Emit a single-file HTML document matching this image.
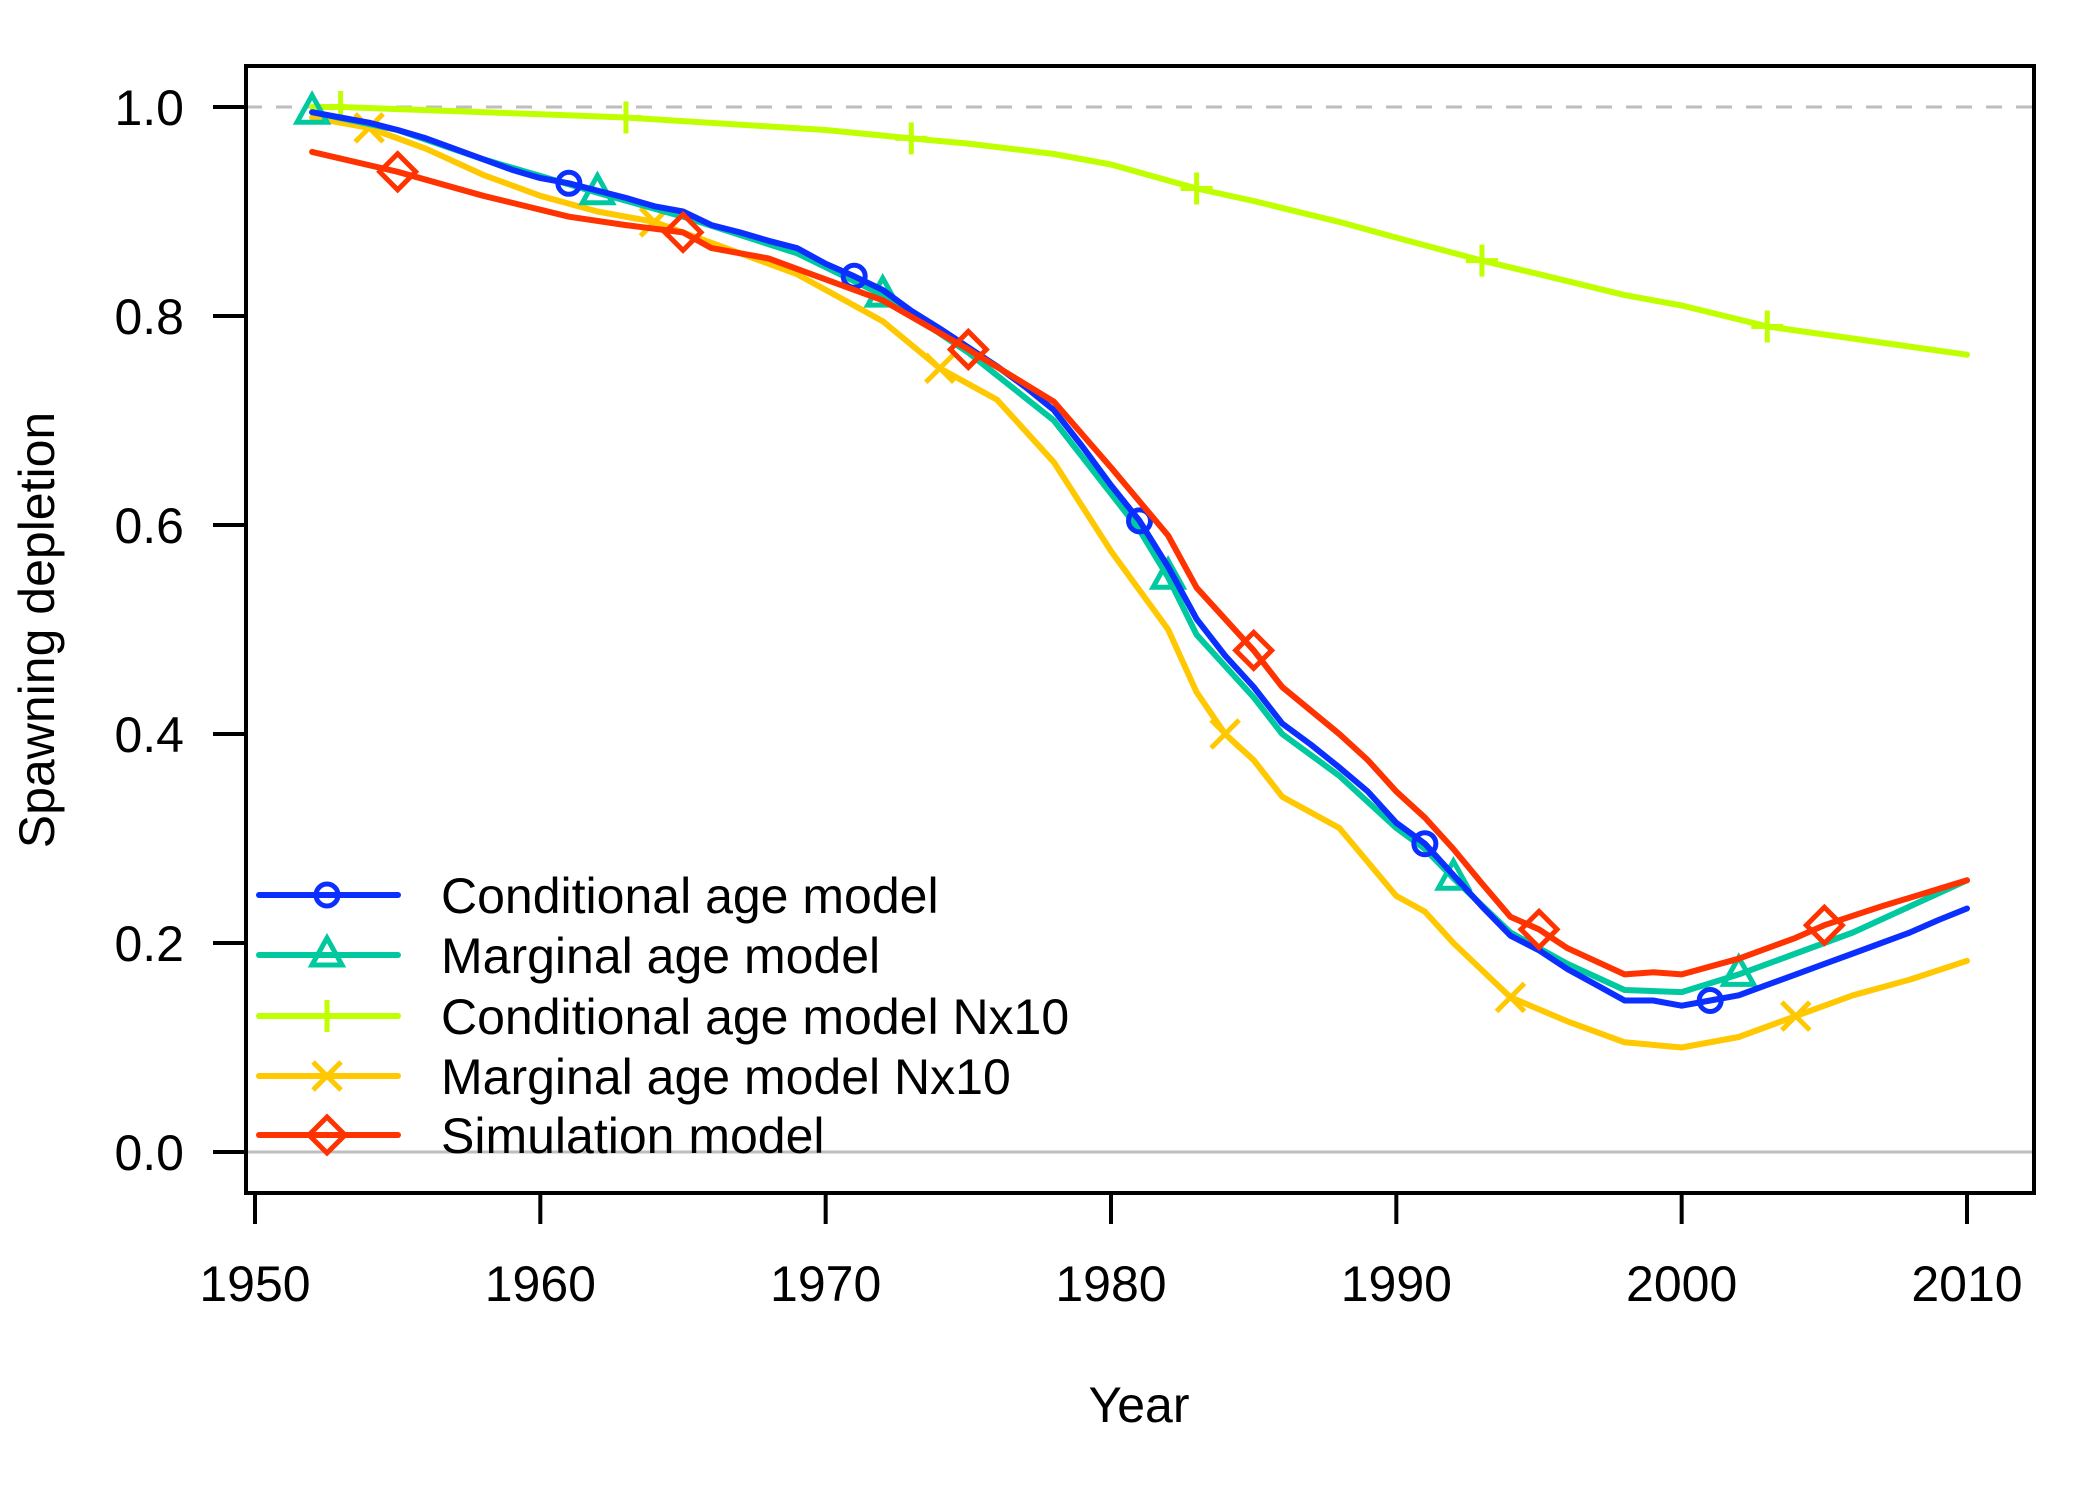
<!DOCTYPE html>
<html><head><meta charset="utf-8"><style>
body{margin:0;background:#fff}
svg{display:block;font-family:"Liberation Sans",Arial,sans-serif}
</style></head><body>
<svg id="chart" width="2100" height="1500" viewBox="0 0 2100 1500">
<rect x="0" y="0" width="2100" height="1500" fill="#fff"/>
<g id="plot"></g>
<g id="axes"></g>
<g id="legend"></g>
</svg>
<script>
const xTicks=[1950,1960,1970,1980,1990,2000,2010];
const yTicks=[0,0.2,0.4,0.6,0.8,1.0];
const yTickLabels=["0.0","0.2","0.4","0.6","0.8","1.0"];
const seriesNames=["Conditional age model","Marginal age model","Conditional age model Nx10","Marginal age model Nx10","Simulation model"];
const condYears=[1952,1953,1954,1955,1956,1957,1958,1959,1960,1961,1962,1963,1964,1965,1966,1967,1968,1969,1970,1971,1972,1973,1974,1975,1976,1977,1978,1979,1980,1981,1982,1983,1984,1985,1986,1987,1988,1989,1990,1991,1992,1993,1994,1995,1996,1997,1998,1999,2000,2001,2002,2003,2004,2005,2006,2007,2008,2009,2010];
const condVals=[0.995,0.99,0.985,0.978,0.97,0.96,0.95,0.94,0.932,0.927,0.92,0.913,0.905,0.9,0.887,0.88,0.872,0.865,0.85,0.838,0.825,0.805,0.788,0.77,0.752,0.732,0.71,0.675,0.638,0.604,0.56,0.51,0.475,0.445,0.41,0.39,0.368,0.345,0.315,0.295,0.265,0.235,0.207,0.193,0.175,0.16,0.145,0.145,0.14,0.145,0.15,0.16,0.17,0.18,0.19,0.2,0.21,0.222,0.233];
const margYears=[1952,1955,1958,1962,1965,1969,1972,1975,1978,1980,1981,1982,1983,1985,1986,1988,1990,1991,1992,1994,1996,1998,2000,2002,2004,2006,2008,2010];
const margVals=[0.995,0.978,0.95,0.918,0.895,0.86,0.82,0.765,0.7,0.63,0.595,0.55,0.495,0.435,0.4,0.36,0.31,0.29,0.262,0.21,0.18,0.155,0.153,0.17,0.19,0.21,0.235,0.26];
const condNYears=[1952,1953,1960,1963,1970,1973,1975,1978,1980,1983,1985,1988,1990,1993,1995,1998,2000,2003,2010];
const condNVals=[1.0,1.0,0.993,0.99,0.978,0.97,0.965,0.955,0.945,0.922,0.91,0.89,0.875,0.853,0.84,0.82,0.81,0.79,0.763];
const margNYears=[1952,1954,1956,1958,1960,1962,1964,1965,1967,1969,1971,1972,1974,1976,1978,1980,1982,1983,1984,1985,1986,1988,1990,1991,1992,1994,1996,1998,2000,2002,2004,2006,2008,2010];
const margNVals=[0.99,0.98,0.96,0.935,0.915,0.9,0.89,0.88,0.86,0.84,0.81,0.795,0.75,0.72,0.66,0.575,0.5,0.44,0.4,0.375,0.34,0.31,0.245,0.23,0.2,0.148,0.125,0.105,0.1,0.11,0.13,0.15,0.165,0.183];
const simYears=[1952,1955,1958,1961,1963,1965,1966,1968,1970,1972,1975,1978,1980,1982,1983,1985,1986,1988,1989,1990,1991,1992,1993,1994,1995,1996,1998,1999,2000,2002,2004,2005,2007,2010];
const simVals=[0.957,0.938,0.915,0.895,0.887,0.88,0.865,0.855,0.835,0.815,0.768,0.718,0.655,0.59,0.54,0.48,0.445,0.4,0.375,0.345,0.32,0.29,0.257,0.225,0.213,0.195,0.17,0.172,0.17,0.185,0.205,0.217,0.235,0.26];
const markYears=[[1961,1971,1981,1991,2001],[1952,1962,1972,1982,1992,2002],[1953,1963,1973,1983,1993,2003],[1954,1964,1974,1984,1994,2004],[1955,1965,1975,1985,1995,2005]];

const colors=["#0b2fff","#00c9a0","#bfff00","#ffc800","#ff3300"];
const markerTypes=["circle","triangle","plus","cross","diamond"];
const L=246,R=2034,T=66,B=1193;
function sx(yr){return 255+(yr-1950)*(1967-255)/60;}
function sy(v){return 1152-v*1045;}
const NS="http://www.w3.org/2000/svg";
function mk(tag,attrs,parent){const e=document.createElementNS(NS,tag);for(const k in attrs)e.setAttribute(k,attrs[k]);parent.appendChild(e);return e;}
function interp(ys,vs,y){for(let i=0;i<ys.length-1;i++){if(y>=ys[i]&&y<=ys[i+1]){const t=(y-ys[i])/(ys[i+1]-ys[i]);return vs[i]+t*(vs[i+1]-vs[i]);}}return vs[vs.length-1];}
function marker(type,x,y,col,parent){
  const g=mk('g',{stroke:col,'stroke-width':5,fill:'none'},parent);
  const s=14;
  if(type==='circle')mk('circle',{cx:x,cy:y,r:11},g);
  else if(type==='triangle')mk('polygon',{points:`${x},${y-17} ${x-15},${y+10} ${x+15},${y+10}`},g);
  else if(type==='plus'){mk('line',{x1:x-16,y1:y,x2:x+16,y2:y},g);mk('line',{x1:x,y1:y-16,x2:x,y2:y+16},g);}
  else if(type==='cross'){mk('line',{x1:x-s,y1:y-s,x2:x+s,y2:y+s},g);mk('line',{x1:x-s,y1:y+s,x2:x+s,y2:y-s},g);}
  else if(type==='diamond')mk('polygon',{points:`${x},${y-18} ${x+18},${y} ${x},${y+18} ${x-18},${y}`},g);
  return g;
}
const plot=document.getElementById('plot'),axes=document.getElementById('axes'),legend=document.getElementById('legend');
const rl1=mk('line',{x1:L,x2:R,y1:sy(1),y2:sy(1),stroke:'#bebebe','stroke-width':3,'stroke-dasharray':'16 14'},plot);


const rl0=mk('line',{x1:L,x2:R,y1:sy(0),y2:sy(0),stroke:'#bebebe','stroke-width':3},plot);


const allYears=[condYears,margYears,condNYears,margNYears,simYears];
const allVals=[condVals,margVals,condNVals,margNVals,simVals];
const drawOrder=[2,3,1,0,4];
drawOrder.forEach(i=>{
  const pts=allYears[i].map((y,j)=>sx(y).toFixed(1)+','+sy(allVals[i][j]).toFixed(1)).join(' ');
  const pl=mk('polyline',{points:pts,fill:'none',stroke:colors[i],'stroke-width':6,'stroke-linejoin':'round','stroke-linecap':'round'},plot);
  
  
  markYears[i].forEach(y=>{
    const m=marker(markerTypes[i],sx(y),sy(interp(allYears[i],allVals[i],y)),colors[i],plot);
    
    
  });
});
const box=mk('rect',{x:L,y:T,width:R-L,height:B-T,fill:'none',stroke:'#000','stroke-width':4},axes);


xTicks.forEach(t=>{
  const ln=mk('line',{x1:sx(t),x2:sx(t),y1:B,y2:1224,stroke:'#000','stroke-width':4},axes);
  
  
  const tx=mk('text',{x:sx(t),y:1301,'font-size':50,'text-anchor':'middle',fill:'#000'},axes);
  tx.textContent=t;
  
  
});
yTicks.forEach((t,i)=>{
  const ln=mk('line',{x1:213,x2:L,y1:sy(t),y2:sy(t),stroke:'#000','stroke-width':4},axes);
  
  
  const tx=mk('text',{x:184,y:sy(t)+18,'font-size':50,'text-anchor':'end',fill:'#000'},axes);
  tx.textContent=yTickLabels[i];
  
  
});
const xt=mk('text',{x:1139,y:1422,'font-size':50,'text-anchor':'middle',fill:'#000'},axes);
xt.textContent='Year';


const yt=mk('text',{x:0,y:0,'font-size':50,'text-anchor':'middle',fill:'#000',transform:'translate(54,630) rotate(-90)'},axes);
yt.textContent='Spawning depletion';


const legY=[895,955,1016,1076,1135];
seriesNames.forEach((n,i)=>{
  const g=mk('g',{},legend);
  
  
  mk('line',{x1:259,x2:398,y1:legY[i],y2:legY[i],stroke:colors[i],'stroke-width':6,'stroke-linecap':'round'},g);
  marker(markerTypes[i],327,legY[i],colors[i],g);
  const tx=mk('text',{x:441,y:legY[i]+18,'font-size':50,fill:'#000'},g);
  tx.textContent=n;
});
</script>
</body></html>
